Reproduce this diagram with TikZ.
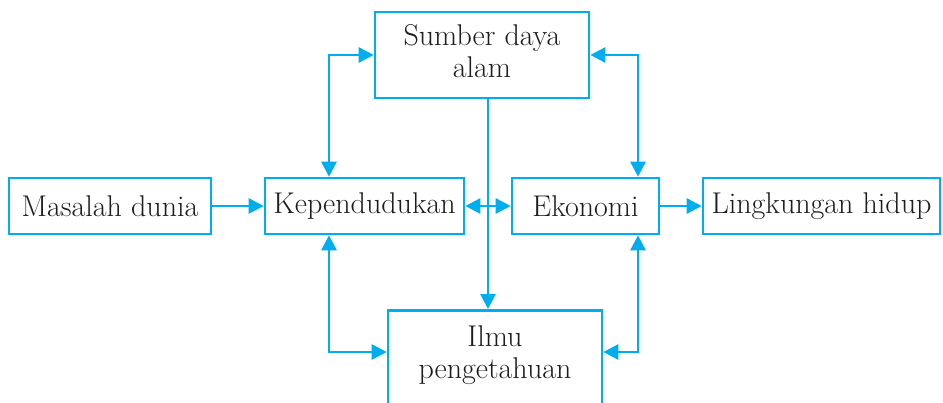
\documentclass[tikz,border=0pt]{standalone}
\usetikzlibrary{arrows.meta}
\definecolor{lineblue}{RGB}{0,174,239}
\definecolor{txt}{RGB}{30,28,28}
\tikzset{
  box/.style={draw=lineblue, line width=2.6pt, inner sep=0pt, align=center, text=txt,
    font=\fontsize{30}{32}\selectfont},
  conn/.style={draw=lineblue, line width=2.6pt},
  arr/.style={conn, -{Triangle[length=15pt,width=15pt]}},
  darr/.style={conn, {Triangle[length=15pt,width=15pt]}-{Triangle[length=15pt,width=15pt]}},
}
\begin{document}
\begin{tikzpicture}[x=1pt,y=-1pt]
\useasboundingbox (0,0) rectangle (943,402);
\clip (0,0) rectangle (943,402);
\node[box, minimum width=214pt, minimum height=86pt] (sumber) at (482,55) {};
\node[box, draw=none] (sumbertext) at (482,51) {Sumber daya\\alam};
\node[box, minimum width=202pt, minimum height=56pt] (masalah) at (110,206) {Masalah dunia};
\node[box, minimum width=199pt, minimum height=56pt] (kep) at (364.5,206) {Kependudukan};
\node[box, minimum width=147pt, minimum height=56pt] (ekon) at (585.5,206) {Ekonomi};
\node[box, minimum width=237pt, minimum height=56pt] (ling) at (821.5,206) {Lingkungan hidup};
\node[box, minimum width=214pt, minimum height=130pt, anchor=north] (ilmu) at (495,309) {};
\node[box, draw=none] (ilmutext) at (495,355) {Ilmu\\pengetahuan};
\coordinate (kl) at (329,352);
\coordinate (er) at (639,352);
% connectors
\draw[arr] (masalah) -- (kep);
\draw[arr] (ekon) -- (ling);
\draw[darr] (kep) -- (ekon);
\draw[darr] ([xshift=-35.5pt]kep.north) |- (sumber.west);
\draw[darr] ([xshift=52.5pt]ekon.north) |- (sumber.east);
\draw[arr] ([xshift=6pt]sumber.south) -- ([xshift=6pt]sumber.south |- ilmu.north);
\draw[darr] ([xshift=-35.5pt]kep.south) |- (kl) -- (kl -| ilmu.west);
\draw[darr] ([xshift=52.5pt]ekon.south) |- (er) -- (er -| ilmu.east);
\end{tikzpicture}
\end{document}
